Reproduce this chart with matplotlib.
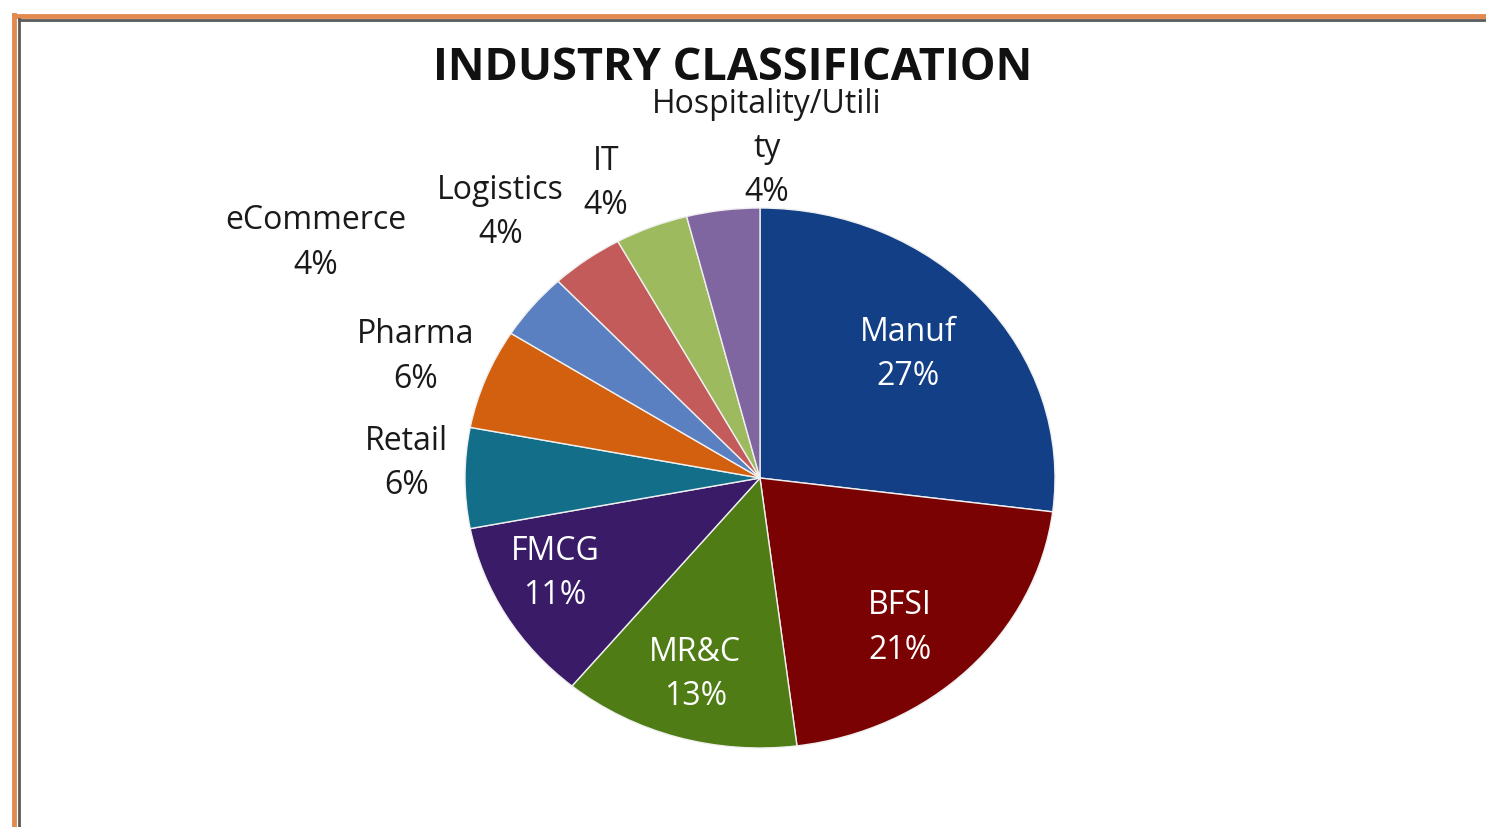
import numpy as np
import matplotlib
matplotlib.use("Agg")
import matplotlib.pyplot as plt
from matplotlib.lines import Line2D

# Data
categories = ["Manuf", "BFSI", "MR&C", "FMCG", "Retail", "Pharma",
              "eCommerce", "Logistics", "IT", "Hospitality/Utility"]
shares = [27, 21, 13, 11, 6, 6, 4, 4, 4, 4]

COLOURS = ["#123F85", "#7A0202", "#4F7C15", "#3A1B68", "#136E89", "#D2600F",
           "#5A80C2", "#C45B5B", "#9DBB5E", "#8066A0"]

# label text as it wraps in the original
label_text = ["Manuf\n27%", "BFSI\n21%", "MR&C\n13%", "FMCG\n11%", "Retail\n6%",
              "Pharma\n6%", "eCommerce\n4%", "Logistics\n4%", "IT\n4%",
              "Hospitality/Utili\nty\n4%"]
# (radius, angle offset in deg) for each label, relative to the wedge middle
label_place = [(0.68, 1), (0.73, -4.5), (0.76, -0.6), (0.78, -3.6), (1.20, -2.6),
               (1.25, 0.6), (1.74, 9.6), (1.32, 5.8), (1.21, 4), (1.22, -8.3)]
inside = [True, True, True, True, False, False, False, False, False, False]

W, H = 1486, 827
fig = plt.figure(figsize=(W / 100, H / 100), dpi=100)
fig.patch.set_facecolor("white")

# pie axes: one data unit = 295 px across, 270 px up
cx, cy, rx, ry = 760, 478, 295, 270
x0, x1, y0, y1 = -2.0, 2.0, -1.25, 1.7
ax = fig.add_axes([(cx + x0 * rx) / W, (H - cy + y0 * ry) / H,
                   (x1 - x0) * rx / W, (y1 - y0) * ry / H])
wedges, _ = ax.pie(shares, colors=COLOURS, startangle=90, counterclock=False,
                   wedgeprops=dict(edgecolor="#f0f0f0", linewidth=1.0))
ax.set_aspect("auto")
ax.set_xlim(x0, x1)
ax.set_ylim(y0, y1)
ax.axis("off")

for w, txt, (r, dth), inn in zip(wedges, label_text, label_place, inside):
    th = np.deg2rad((w.theta1 + w.theta2) / 2 + dth)
    ax.text(r * np.cos(th), r * np.sin(th), txt, ha="center", va="center",
            color="white" if inn else "#1a1a1a", fontsize=23,
            family="Open Sans", linespacing=1.45)

fig.text(733 / W, 1 - 69 / H, "INDUSTRY CLASSIFICATION", ha="center", va="center",
         fontsize=32.5, fontweight="bold", family="Open Sans", color="#111111")

# orange frame with a dark shadow line, top and left edges
fig.add_artist(Line2D([14 / W, 1], [1 - 16 / H] * 2, color="#E38A50", lw=3.5))
fig.add_artist(Line2D([19 / W, 1], [1 - 20 / H] * 2, color="#5a5a5a", lw=2))
fig.add_artist(Line2D([14 / W] * 2, [0, 1 - 14.5 / H], color="#E38A50", lw=3.5))
fig.add_artist(Line2D([19 / W] * 2, [0, 1 - 19 / H], color="#5a5a5a", lw=2))

fig.savefig("out.png", dpi=100, facecolor="white")
